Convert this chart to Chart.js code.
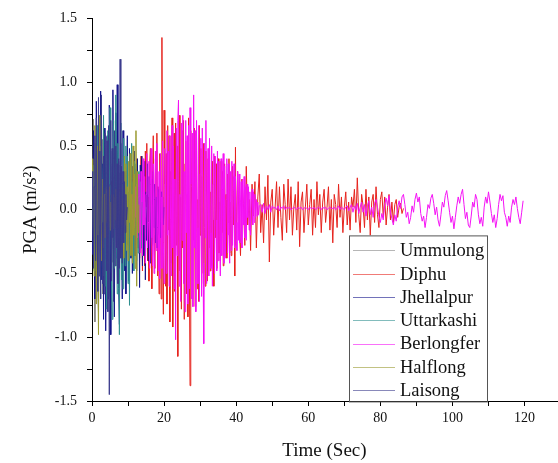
<!DOCTYPE html>
<html>
<head>
<meta charset="utf-8">
<script src="https://cdn.jsdelivr.net/npm/chart.js@4/dist/chart.umd.min.js"></script>
<style>
html,body{margin:0;padding:0;background:#fff;}
#wrap{position:relative;width:558px;height:463px;}
</style>
</head>
<body>
<div id="wrap"><canvas id="c" width="558" height="463"></canvas></div>
<script>
// ---- data (PGA in m/s^2, sampled from a start time with a fixed step, seconds) ----
const seriesNames = ['Ummulong','Diphu','Jhellalpur','Uttarkashi','Berlongfer','Halflong','Laisong'];
const xTickLabels = [0,20,40,60,80,100,120];
const yTickLabels = [-1.5,-1.0,-0.5,0.0,0.5,1.0,1.5];

const ummulongStart = 0, ummulongStep = 0.2;
const ummulongValues = [0.05,0.28,0.71,-0.32,-0.88,-0.15,0.44,0.12,-0.52,0.38,0.63,-0.21,-0.47,0.09,0.55,-0.66,-0.12,0.24,0.41,-0.38,-0.09,0.57,-0.29,0.14,-0.51,-0.22,0.36,0.08,-0.41,0.45,-0.06,-0.33,0.27,0.18,-0.44,0.11,0.32,-0.25,-0.08,0.29,-0.34,0.06,0.21,-0.28,0.15,-0.12,0.24,-0.18,0.05,0.10,-0.04];

const diphuStartA = 5.0, diphuStepA = 0.2;
const diphuValuesA = [
0.10,-0.05,0.22,-0.15,0.04,0.26,-0.20,-0.08,0.14,-0.24,
0.18,0.02,-0.26,0.16,-0.10,0.28,-0.18,0.06,-0.30,0.20,
-0.06,0.26,-0.22,0.12,0.30,-0.28,-0.04,0.18,-0.32,0.26,
-0.12,0.34,-0.24,0.08,-0.36,0.32,-0.16,0.40,-0.06,-0.30,
0.24,-0.38,0.12,0.42,-0.20,-0.48,0.30,0.05,-0.44,0.46,
-0.18,0.52,-0.40,0.10,-0.56,0.36,0.48,-0.12,-0.62,0.28,
0.58,-0.20,-0.46,0.40,-0.08,0.60,-0.52,0.18,-0.66,0.44,
0.10,-0.70,1.35,-0.30,-0.82,0.78,0.20,-0.60,0.44,-0.74,
0.66,-0.16,0.58,-0.88,0.30,-0.42,0.72,-0.92,0.14,0.60,
-0.64,0.68,-0.28,0.50,-1.15,0.22,0.74,-0.48,0.10,-0.78,
0.62,-0.30,0.70,-0.86,0.36,0.54,-0.66,0.12,-0.84,0.72,
-0.40,-1.38,0.62,0.18,-0.70,0.58,-0.24,0.64,-0.76,0.30,
0.56,-0.62,0.08,-0.72,0.66,-0.20,0.48,-0.58,0.26,-0.50,
0.52,-0.14,-0.60,0.46,0.10,-0.56,0.40,-0.30,0.50,-0.48,
0.14,-0.44,0.38,-0.08,-0.60,0.42,-0.22,0.36,-0.46,0.20,
0.40,-0.34,0.06,-0.40,0.38,-0.18,0.30,-0.44,0.16,0.36,
-0.32,0.12,-0.38,0.28,-0.10,0.40,-0.34,0.06,-0.36,0.30,
0.34,-0.12,0.26,-0.52,0.49,-0.28];
const diphuStartB = 40.4, diphuStepB = 0.4;
const diphuValuesB = [
0.30,-0.10,-0.36,0.24,0.05,-0.28,0.34,-0.12,0.08,-0.32,
0.20,-0.05,0.22,-0.30,0.10,0.28,-0.18,0.04,-0.26,0.18,
-0.08,0.27,-0.41,0.06,0.16,-0.20,0.02,0.22,-0.14,0.18,
-0.06,-0.24,0.20,0.04,-0.18,0.24,-0.08,0.18,-0.20,0.02,
0.12,-0.16,0.22,-0.29,0.06,0.14,-0.18,0.02,0.20,-0.12,
0.04,0.16,-0.20,0.08,-0.14,0.22,-0.04,0.12,-0.18,0.06,
0.16,-0.10,0.02,0.18,-0.16,0.08,-0.26,0.12,0.04,-0.14,
0.20,-0.06,0.10,-0.18,0.02,0.14,-0.12,0.06,-0.16,0.10,
0.02,0.16,-0.10,0.25,-0.04,-0.18,0.12,0.03,-0.14,0.16,
-0.08,0.10,-0.20,0.06,0.12,-0.10,0.18,-0.04,-0.14,0.08,
0.14,-0.06,0.10,-0.12,0.02,0.12,-0.08,0.06,-0.10,0.04,
0.08,-0.06,0.02,0.05,-0.03,0.01];

const jhellalpurStart = 0, jhellalpurStep = 0.2;
const jhellalpurValues = [
0.10,-0.35,0.62,0.18,-0.70,-0.22,0.85,0.31,-0.48,-0.80,0.42,
0.12,0.93,-0.55,-0.14,0.36,-0.86,0.64,0.08,-0.95,-0.30,
0.58,-0.12,-0.70,0.82,0.20,-0.98,-0.40,0.46,0.94,-0.25,
-0.84,0.15,0.76,-0.38,0.98,0.10,-0.62,-0.90,0.35,0.52,
-0.18,-0.70,0.62,0.05,-0.48,0.30,-0.66,0.14,0.58,-0.22,
-0.56,0.48,0.10,-0.38,0.24,-0.50,0.34,-0.08,0.46,-0.36,
0.12,-0.48,0.40,-0.20,0.18,-0.61,0.35,-0.10,0.42,-0.44,
0.06,-0.36,0.38,-0.55,0.14,-0.24,0.36,-0.40,0.26,-0.08,
-0.42,0.24,0.04,-0.28,0.30,-0.14,0.20,-0.26,0.10,-0.30,
0.18,-0.20,0.16,-0.08,-0.22,0.14,-0.06,0.10,-0.12,0.02];

const uttarkashiStart = 0, uttarkashiStep = 0.2;
const uttarkashiValues = [
0.05,0.35,-0.18,-0.48,0.52,0.10,-0.40,0.66,-0.22,-0.62,0.50,
0.06,-0.70,0.46,0.20,-0.52,0.74,-0.15,-0.60,0.42,-0.78,
0.28,0.62,-0.34,-0.68,0.80,0.12,-0.54,-0.86,0.40,0.70,
-0.46,0.18,0.90,-0.30,-0.66,0.52,0.08,-0.98,0.38,0.68,
-0.55,0.20,-0.62,0.56,-0.12,-0.44,0.50,-0.28,0.42,-0.58,
0.14,-0.75,0.44,-0.06,0.52,-0.36,0.22,-0.48,0.38,-0.20,
0.36,-0.40,0.10,-0.34,0.30,-0.12,0.22,-0.30,0.08,-0.18,
0.14,-0.12,0.06,-0.06,0.02];

const berlongferStartA = 11.0, berlongferStepA = 0.2;
const berlongferValuesA = [
0.04,-0.08,0.12,0.02,-0.14,0.18,-0.06,0.20,-0.22,0.10,
0.28,-0.16,-0.34,0.30,0.06,-0.36,0.40,-0.12,0.26,-0.42,
0.12,0.44,-0.30,-0.10,0.38,-0.46,0.20,0.48,-0.22,-0.44,
0.36,-0.50,0.08,0.46,-0.32,0.52,-0.14,-0.48,0.30,-0.54,
0.44,0.10,-0.46,0.54,-0.26,-0.58,0.48,0.16,-0.50,0.62,
-0.20,0.46,-0.60,0.58,-0.08,-0.52,0.66,-0.30,0.50,-0.62,
0.24,-1.02,0.64,-0.36,0.70,0.86,-0.60,0.12,-0.72,0.68,
-0.24,0.74,-0.58,0.30,-0.80,0.70,-0.18,0.58,-0.74,0.66,
-0.62,0.80,0.20,-0.70,0.60,-0.76,0.90,-0.30,0.62,-0.80,
0.70,-0.14,-0.58,0.66,-0.72,0.28,0.56,-0.68,0.64,-0.42,
-1.05,0.52,-0.22,0.70,-0.58,0.10,0.48,-0.52,0.56,-0.18,
-0.46,0.50,-0.60,0.20,0.44,-0.50,0.42,-0.08,-0.48,0.46,
-0.40,0.38,-0.12,-0.52,0.40,-0.36,0.16,0.44,-0.42,0.34,
-0.38,0.08,0.40,-0.34,0.36,-0.20,-0.42,0.30,-0.32,0.38,
-0.28,0.14,0.36,-0.30,0.26,-0.10,-0.32,0.30,-0.24,0.28,
-0.26,0.06,0.22,-0.30,0.24,-0.12,0.26,-0.22,0.18,-0.24,
0.20,-0.06,0.18,-0.16,0.14,-0.20,0.08,0.16,-0.12,0.14,
-0.10,0.12,-0.06,0.08,-0.05,0.06,-0.04,0.03];
const berlongferStartB = 46.8, berlongferStepB = 0.4;
const berlongferValuesB = [
0.04,-0.02,0.05,-0.03,0.03,0.00,0.04,-0.02,0.03,0.01,
0.02,0.00,0.03,-0.01,0.02,0.01,0.03,0.00,0.02,0.01,
0.02,0.00,0.01,0.02,0.01,0.00,0.02,0.01,0.02,0.00,
0.01,0.02,0.01,0.00,0.02,0.01,0.01,0.02,0.00,0.01,
0.02,0.01,0.00,0.02,0.01,0.02,0.00,0.01,0.02,0.01,
0.01,0.02,0.00,0.01,0.03,0.00,0.02,0.01,0.00,0.02,
0.03,-0.01,0.02,
0.04,-0.02,0.03,0.00,0.05,-0.03,0.02,0.06,-0.02,0.04,-0.05,0.03,
0.07,-0.04,0.02,-0.06,0.05,0.08,0.02,-0.05,-0.10,-0.03,
-0.08,0.04,0.09,0.03,0.11,-0.02,-0.07,-0.12,-0.04,-0.09,
0.02,0.07,0.01,0.10,0.12,0.04,-0.06,-0.02,-0.11,-0.06,
0.03,-0.02,0.08,0.13,0.06,0.10,-0.03,-0.09,-0.05,-0.14,
-0.06,0.04,0.01,0.09,0.12,0.05,-0.04,0.02,-0.08,-0.13,
-0.04,0.06,0.02,0.11,0.15,0.07,-0.02,-0.10,-0.05,-0.15,
-0.06,0.03,0.10,0.05,0.12,0.16,0.04,-0.07,-0.02,-0.12,
-0.14,-0.05,0.06,0.02,0.12,0.08,-0.04,-0.11,-0.06,-0.13,
0.02,0.10,0.05,0.14,0.06,-0.03,-0.10,-0.04,-0.14,-0.07,
0.04,0.12,0.07,0.11,-0.02,-0.06,-0.13,-0.05,-0.10,0.02,
0.08,0.04,0.10,0.01,-0.06,-0.11,-0.02,0.07];

const halflongStart = 0, halflongStep = 0.2;
const halflongValues = [
0.08,0.40,-0.22,-0.52,0.66,0.15,-0.74,0.50,-0.30,-0.98,0.74,
-0.12,0.36,-0.40,0.10,0.24,-0.30,0.12,-0.22,0.18,-0.10,
0.16,-0.14,0.04,0.18,-0.16,0.06,-0.14,0.12,-0.04,-0.15,
0.10,-0.08,0.16,-0.12,0.05,-0.14,0.18,-0.04,0.14,-0.12,
0.34,-0.30,0.08,-0.38,0.42,-0.12,0.36,-0.32,0.18,-0.40,
0.38,-0.10,0.44,-0.36,0.12,-0.42,0.50,-0.20,0.28,-0.46,
0.62,-0.60,0.30,-0.18,0.04];

const laisongStart = 0, laisongStep = 0.2;
const laisongValues = [
0.02,0.30,-0.46,0.18,0.58,-0.40,0.72,-0.20,-0.64,0.88,-0.52,
0.46,-0.70,0.90,-0.10,-0.58,0.42,-0.66,0.60,0.12,-0.48,
0.54,-0.80,0.66,-1.45,0.20,0.70,-0.56,0.48,-0.22,-0.72,
0.62,-0.44,0.50,-0.30,0.36,-0.58,0.40,-0.46,1.18,-0.38,
0.34,-0.42,0.30,-0.26,0.22,-0.18,0.12,-0.08,0.02];

// ---- styles ----
const seriesColors = ['#858585','#e6231d','#14148a','#2f8f8f','#f512f5','#9a9a30','#3a3a8c'];
const FONT = "'Liberation Serif','Times New Roman',serif";

function toPoints(t0, dt, values){
  return values.map((v,i)=>({x: Math.round((t0 + i*dt)*100)/100, y: v}));
}
const seriesData = [
  toPoints(ummulongStart, ummulongStep, ummulongValues),
  toPoints(diphuStartA, diphuStepA, diphuValuesA).concat(toPoints(diphuStartB, diphuStepB, diphuValuesB)),
  toPoints(jhellalpurStart, jhellalpurStep, jhellalpurValues),
  toPoints(uttarkashiStart, uttarkashiStep, uttarkashiValues),
  toPoints(berlongferStartA, berlongferStepA, berlongferValuesA).concat(toPoints(berlongferStartB, berlongferStepB, berlongferValuesB)),
  toPoints(halflongStart, halflongStep, halflongValues),
  toPoints(laisongStart, laisongStep, laisongValues)
];

const datasets = seriesNames.map((name,i)=>({
  label: name,
  data: seriesData[i],
  borderColor: seriesColors[i],
  backgroundColor: seriesColors[i],
  borderWidth: 1,
  pointRadius: 0,
  tension: 0,
  fill: false,
  order: seriesNames.length - i   // later series drawn on top
}));

const boxLegend = {
  id: 'boxLegend',
  afterDraw(chart){
    const ctx = chart.ctx, a = chart.chartArea;
    const left = a.left + 257, top = a.top + 217, w = 138, h = 166;
    ctx.save();
    ctx.strokeStyle = '#555'; ctx.lineWidth = 1;
    ctx.strokeRect(left + 0.5, top + 0.5, w, h);
    ctx.font = '18.5px ' + FONT;
    ctx.textBaseline = 'middle';
    ctx.fillStyle = '#111';
    chart.data.datasets.forEach((ds,i)=>{
      const y = top + 15 + i*23.3;
      ctx.strokeStyle = ds.borderColor;
      ctx.globalAlpha = 0.6;
      ctx.beginPath(); ctx.moveTo(left + 4, Math.round(y)+0.5); ctx.lineTo(left + 46, Math.round(y)+0.5); ctx.stroke();
      ctx.globalAlpha = 1;
      ctx.fillText(ds.label, left + 51, y + 1);
    });
    ctx.restore();
  }
};

new Chart(document.getElementById('c'), {
  type: 'line',
  data: { datasets },
  plugins: [boxLegend],
  options: {
    responsive: false,
    animation: false,
    layout: { padding: { top: 16, right: 1, bottom: 0, left: 0 } },
    plugins: { legend: { display: false }, tooltip: { enabled: false } },
    scales: {
      x: {
        type: 'linear', min: 0, max: 129,
        afterFit(s){ s.height = 62; },
        ticks: {
          stepSize: 10, includeBounds: false, autoSkip: false, maxRotation: 0,
          padding: 4, color: '#111', font: { family: FONT, size: 14 },
          callback: v => xTickLabels.includes(v) ? String(v) : ''
        },
        grid: { drawOnChartArea: false, drawTicks: true, tickLength: 5, color: '#000' },
        border: { color: '#000', width: 1 },
        title: { display: true, text: 'Time (Sec)', color: '#111', font: { family: FONT, size: 19 }, padding: { top: 0, bottom: 1 } }
      },
      y: {
        type: 'linear', min: -1.5, max: 1.5,
        afterFit(s){ s.width = 92; },
        ticks: {
          stepSize: 0.25, autoSkip: false, padding: 10, color: '#111', font: { family: FONT, size: 14 },
          callback: v => yTickLabels.some(t => Math.abs(t - v) < 1e-9) ? v.toFixed(1) : ''
        },
        grid: { drawOnChartArea: false, drawTicks: true, tickLength: 5, color: '#000' },
        border: { color: '#000', width: 1 },
        title: { display: true, text: 'PGA (m/s²)', color: '#111', font: { family: FONT, size: 19 }, padding: { top: 20, bottom: 0 } }
      }
    }
  }
});
</script>
</body>
</html>
